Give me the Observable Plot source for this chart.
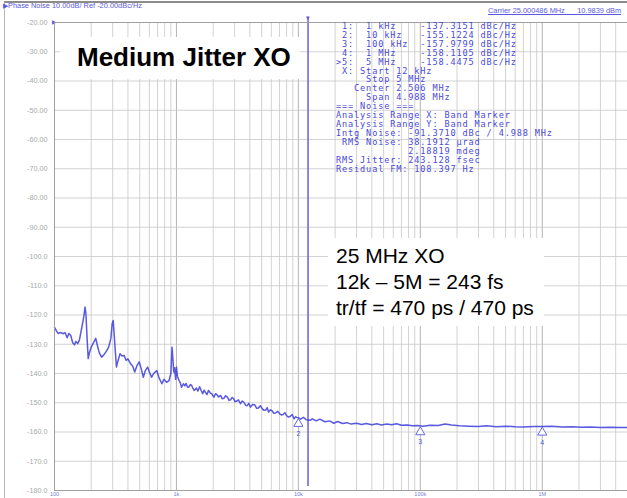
<!DOCTYPE html>
<html><head><meta charset="utf-8">
<script src="https://cdn.jsdelivr.net/npm/d3@7"></script>
<script src="https://cdn.jsdelivr.net/npm/@observablehq/plot@0.6"></script>
<style>
html,body{margin:0;padding:0;background:#fff;overflow:hidden}
#wrap{position:relative;width:627px;height:498px;font-family:"Liberation Sans",Arial,sans-serif}
#wrap svg{position:absolute;left:0;top:0}
.ov{position:absolute}
#border{left:4px;top:1px;width:640px;height:520px;border-left:1px solid #b8b8b8;border-top:2px solid #8c8c8c}
#hdr{left:3px;top:1px;font-size:7.4px;color:#5a5ae0;white-space:pre}
#carrier{left:488px;top:6px;font-size:7.4px;color:#5a5ae0;white-space:pre;text-decoration:underline}
#title{left:60px;top:37px;width:240px;height:42px;background:#fff;font-weight:bold;font-size:26px;line-height:26px;padding:0;}
#title span{position:absolute;left:17px;top:7px;white-space:nowrap}
#note{left:328px;top:238px;width:216px;height:88px;background:#fff;font-size:21px;line-height:26px;}
#note div{position:absolute;left:8px;top:5px;white-space:pre}
#table{left:336px;top:22px;font-family:"DejaVu Sans Mono",monospace;font-size:8.6px;line-height:8.9px;letter-spacing:0.85px;color:#4a4ad8;white-space:pre;margin:0}
</style></head><body><div id="wrap"></div>
<script>
// Phase noise trace: offset frequency (Hz) and L(f) (dBc/Hz)
const freqs = [100,104,107,112,118,122,127,131,136,141,146,150,155,160,168,174,178,181,185,189,193,200,210,218,225,232,243,252,265,278,290,297,303,309,316,322,330,345,358,372,386,400,420,438,455,475,495,515,535,556,580,600,625,650,690,720,760,790,830,870,900,920,935,950,965,985,1000,1020,1050,1075,1100,1140,1170,1200,1230,1260,1300,1330,1370,1400,1460,1500,1550,1600,1640,1690,1730,1780,1830,1890,1950,2030,2090,2150,2220,2300,2370,2450,2530,2620,2700,2780,2860,2940,3020,3100,3220,3350,3470,3600,3700,3800,3920,4050,4220,4400,4550,4700,4870,5050,5220,5400,5550,5700,5900,6100,6300,6500,6750,7000,7250,7500,7750,8000,8300,8600,8900,9200,9500,9700,10000,10400,11000,11600,12500,13000,14000,15000,16500,18000,19500,21000,23000,25000,27000,30000,33000,36000,40000,44000,48000,53000,58000,64000,70000,78000,86000,95000,105000,120000,140000,160000,180000,210000,250000,300000,350000,420000,500000,600000,700000,850000,1000000,1200000,1450000,1750000,2100000,2500000,3000000,3600000,4300000,5000000];
const noise = [-124.2,-125.5,-126.3,-126.0,-126.4,-126.0,-127.8,-126.3,-127.0,-129.5,-130.2,-129.0,-129.8,-128.6,-124.0,-120.5,-117.3,-119.5,-128.0,-134.9,-133.0,-131.0,-129.3,-128.0,-130.5,-132.7,-134.4,-133.8,-132.5,-131.0,-128.0,-123.0,-121.9,-127.0,-133.0,-137.8,-136.0,-133.2,-134.0,-133.8,-135.5,-135.0,-136.6,-137.5,-139.5,-137.3,-136.0,-138.5,-141.3,-139.0,-137.8,-139.5,-141.3,-140.0,-139.0,-141.5,-143.5,-142.0,-143.0,-142.4,-140.0,-131.0,-135.0,-139.5,-138.0,-142.0,-137.8,-141.0,-142.4,-143.2,-144.7,-143.5,-144.2,-143.4,-144.6,-144.7,-143.8,-144.0,-145.2,-145.8,-145.0,-146.0,-144.5,-145.9,-146.9,-145.7,-146.5,-147.2,-145.8,-146.6,-147.0,-148.1,-146.9,-147.3,-148.0,-147.5,-148.6,-148.5,-147.6,-148.1,-149.2,-149.0,-148.2,-148.6,-149.6,-149.5,-149.0,-150.3,-149.4,-150.0,-150.9,-151.0,-150.2,-151.5,-150.6,-150.8,-151.9,-151.8,-151.0,-152.0,-152.6,-152.5,-151.7,-153.2,-152.4,-152.8,-153.6,-153.5,-152.9,-153.7,-154.2,-154.0,-153.4,-154.4,-154.9,-154.6,-154.0,-155.5,-154.8,-155.0,-155.1,-155.6,-155.0,-155.8,-156.0,-155.5,-156.2,-155.6,-156.5,-156.2,-157.0,-156.4,-157.1,-156.8,-157.3,-157.0,-157.4,-157.1,-157.5,-157.2,-157.6,-157.3,-157.5,-157.2,-157.7,-157.6,-157.9,-157.8,-158.0,-157.7,-157.8,-157.3,-157.6,-157.9,-158.0,-158.1,-157.9,-158.2,-158.0,-158.2,-158.3,-158.1,-158.1,-158.0,-158.3,-158.2,-158.4,-158.3,-158.5,-158.4,-158.5,-158.45];

// Markers shown on the trace
const markerFreqs = [10000, 100000, 1000000];
const markerValues = [-155.1224, -157.9799, -158.1105];
const markerNames = ["2", "3", "4"];

// Integration band start (X: Start 12 kHz)
const bandStart = [12000];

// Axis ticks
const yTickValues = [-20,-30,-40,-50,-60,-70,-80,-90,-100,-110,-120,-130,-140,-150,-160,-170,-180];
const yTickLabels = ["-20.00","-30.00","-40.00","-50.00","-60.00","-70.00","-80.00","-90.00","-100.0","-110.0","-120.0","-130.0","-140.0","-150.0","-160.0","-170.0","-180.0"];
const xTickValues = [100, 1000, 10000, 100000, 1000000];
const xTickLabels = ["100", "1k", "10k", "100k", "1M"];

// Marker table text
const tableLines = [
  " 1:  1 kHz    -137.3151 dBc/Hz",
  " 2:  10 kHz   -155.1224 dBc/Hz",
  " 3:  100 kHz  -157.9799 dBc/Hz",
  " 4:  1 MHz    -158.1105 dBc/Hz",
  ">5:  5 MHz    -158.4475 dBc/Hz",
  " X: Start 12 kHz",
  "     Stop 5 MHz",
  "   Center 2.506 MHz",
  "     Span 4.988 MHz",
  "=== Noise ===",
  "Analysis Range X: Band Marker",
  "Analysis Range Y: Band Marker",
  "Intg Noise: -91.3710 dBc / 4.988 MHz",
  " RMS Noise: 38.1912 \u00b5rad",
  "            2.18819 mdeg",
  "RMS Jitter: 243.128 fsec",
  "Residual FM: 108.397 Hz"
];
const noteLines = ["25 MHz XO", "12k \u2013 5M = 243 fs", "tr/tf = 470 ps / 470 ps"];

const trace = freqs.map((f, i) => ({f, v: noise[i]}));
const markers = markerFreqs.map((f, i) => ({f, v: markerValues[i], name: markerNames[i]}));
const decades = [100, 1000, 10000, 100000, 1000000];
const minor = decades.flatMap(d => [2,3,4,5,6,7,8,9].map(m => d * m)).filter(f => f < 5e6);
const yLab = new Map(yTickValues.map((v, i) => [v, yTickLabels[i]]));
const xLab = new Map(xTickValues.map((v, i) => [v, xTickLabels[i]]));

const chart = Plot.plot({
  width: 627, height: 498,
  marginLeft: 54, marginRight: 0, marginTop: 22, marginBottom: 8,
  style: {fontFamily: "Liberation Sans, Arial, sans-serif", background: "transparent", overflow: "visible"},
  x: {type: "log", domain: [100, 5e6]},
  y: {domain: [-180, -20]},
  marks: [
    Plot.gridX(minor, {stroke: "#c8c8c8", strokeOpacity: 1, strokeWidth: 0.8}),
    Plot.gridX(decades, {stroke: "#b4b4b4", strokeOpacity: 1, strokeWidth: 1}),
    Plot.gridY(yTickValues, {stroke: "#c8c8c8", strokeOpacity: 1, strokeWidth: 0.8}),
    Plot.axisY(yTickValues, {tickSize: 0, tickPadding: 7, fontSize: 7.2, fill: "#a8a8a8", tickFormat: d => yLab.get(d), label: null}),
    Plot.axisX(xTickValues, {tickSize: 0, tickPadding: 2, fontSize: 5.5, fill: "#7a7ad8", tickFormat: d => xLab.get(d), label: null}),
    Plot.ruleX(bandStart, {stroke: "#6b6be6", strokeWidth: 1.6, y1: -20, y2: -180, dy: -4}),
    Plot.text(bandStart, {x: d => d, frameAnchor: "top", text: () => "\u25BE", dy: -7, fill: "#5a5ae0", fontSize: 7}),
    Plot.text([-20], {y: d => d, frameAnchor: "left", text: () => "\u25B6", dx: -3, fill: "#5a5ae0", fontSize: 6}),
    Plot.line(trace, {x: "f", y: "v", stroke: "#3c3cdc", strokeWidth: 1.5, strokeOpacity: 0.85, curve: "linear"}),
    Plot.dot(markers, {x: "f", y: "v", symbol: "triangle", r: 3.4, dy: 6, fill: "white", stroke: "#5a5ad8", strokeWidth: 0.9}),
    Plot.text(markers, {x: "f", y: "v", text: "name", dy: 16, fontSize: 7, fill: "#5a5ad8"}),
    Plot.frame({stroke: "#a0a0a0", strokeWidth: 1})
  ]
});

const wrap = document.getElementById("wrap");
wrap.appendChild(chart);
function ov(id, html) { const d = document.createElement("div"); d.id = id; d.className = "ov"; d.innerHTML = html; wrap.appendChild(d); return d; }
ov("border", "");
ov("hdr", "\u25B6Phase Noise 10.00dB/ Ref -20.00dBc/Hz");
ov("carrier", "Carrier 25.000486 MHz      10.9839 dBm");
const t = ov("title", ""); const ts = document.createElement("span"); ts.textContent = "Medium Jitter XO"; t.appendChild(ts);
const n = ov("note", ""); const nd = document.createElement("div"); nd.textContent = noteLines.join("\n"); n.appendChild(nd);
const tb = document.createElement("pre"); tb.id = "table"; tb.className = "ov"; tb.textContent = tableLines.join("\n"); wrap.appendChild(tb);
</script></body></html>
